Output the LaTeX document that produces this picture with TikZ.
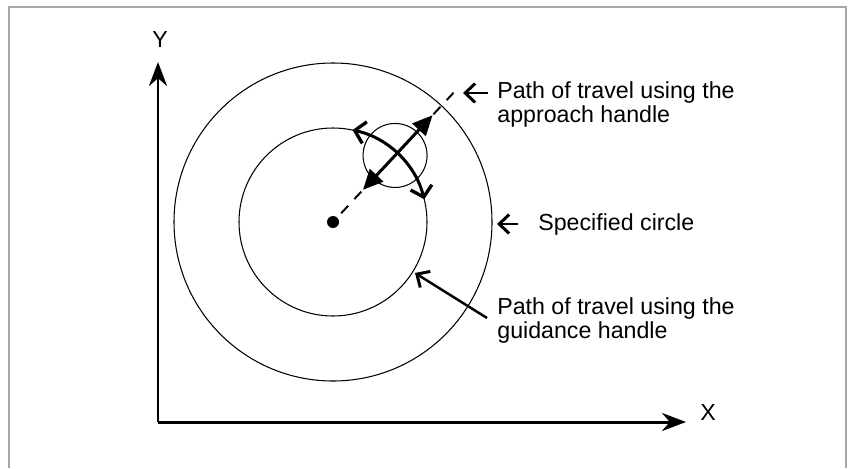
\documentclass[tikz,border=0pt]{standalone}
\usepackage{fontspec}
\setmainfont{Liberation Sans}
\usepackage{tikz}
\usetikzlibrary{arrows.meta, positioning, calc}
\tikzset{
    axis/.style={-{Stealth[length=0.48cm, width=0.36cm]}, line width=1.7pt},
    circ/.style={line width=0.6pt},
    travel/.style={{Triangle[length=0.4cm, width=0.36cm]}-{Triangle[length=0.4cm, width=0.36cm]}, line width=1.7pt},
    guide/.style={{Straight Barb[length=0.2cm, width=0.44cm, line width=1.9pt]}-{Straight Barb[length=0.2cm, width=0.44cm, line width=1.9pt]}, line width=1.7pt},
    ptr/.style={-{Straight Barb[length=0.2cm, width=0.38cm, line width=1.7pt]}, line width=1.4pt},
    lbl/.style={font=\fontsize{13.2}{14.2}\selectfont, align=left, inner sep=0pt},
}

\begin{document}
\begin{tikzpicture}[x=0.02cm, y=0.02cm]
        \useasboundingbox (0,0) rectangle (848,468);
        % Rahmen
        \draw[gray!70, line width=1.1pt] (9,0) -- (9,461) -- (846,461) -- (846,0);

        % Achsen
        \coordinate (O) at (158,46);
        \coordinate (Yend) at (158,406);
        \coordinate (Xend) at (686,46);
        \draw[axis] (O) -- (Yend);
        \draw[axis] (O) -- (Xend);
        \node[lbl] (Y) at (160,428) {Y};
        \node[lbl] (X) at (708,55) {X};

        % Kreise
        \coordinate (C) at (333,246);
        \draw[circ] (C) circle[radius=94];
        \draw[circ] (C) circle[radius=159];
        \fill (C) circle[radius=6];
        \draw[circ] ($(C)+(47:91)$) circle[radius=32];

        % Verfahrwege
        \coordinate (D1) at ($(C)+(47:12)$);
        \coordinate (D2) at ($(C)+(47:180)$);
        \draw[line width=1.1pt, dash pattern=on 5.8pt off 5.2pt] (D1) -- (D2);
        \coordinate (A1) at ($(C)+(47:44)$);
        \coordinate (A2) at ($(C)+(47:146)$);
        \draw[travel] (A1) -- (A2);
        \draw[guide] ($(C)+(78:94)$) arc[start angle=78, end angle=14, radius=94];

        % Beschriftungen
        \node[lbl, anchor=west] (appr) at (497,363.5) {Path of travel using the\\approach handle};
        \node[lbl, anchor=west] (spec) at (538,244) {Specified circle};
        \node[lbl, anchor=west] (guid) at (497,147.5) {Path of travel using the\\guidance handle};
        \coordinate (P1) at (463,375);
        \coordinate (P2) at (497,244);
        \coordinate (P3) at (415,195);
        \draw[ptr] (appr.west |- P1) ++(-9,0) -- (P1);
        \draw[ptr] (spec.west) ++(-20,0) -- (P2);
        \draw[ptr] (487,150) -- (P3);
    \end{tikzpicture}
\end{document}
